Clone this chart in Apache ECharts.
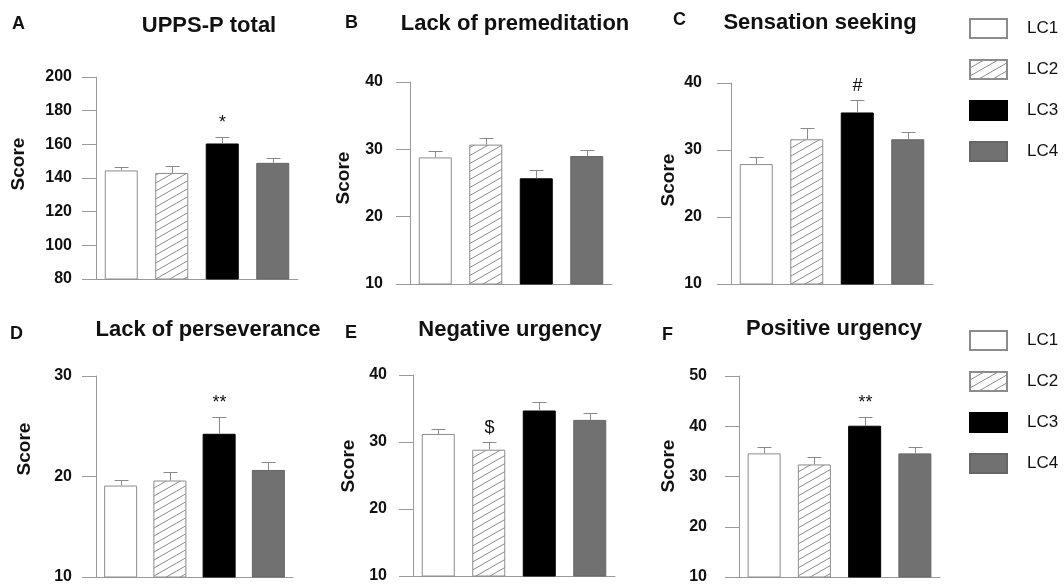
<!DOCTYPE html>
<html>
<head>
<meta charset="utf-8">
<script src="https://cdn.jsdelivr.net/npm/echarts@6/dist/echarts.min.js"></script>
<style>
html,body{margin:0;padding:0;background:#fff}
#main{width:1064px;height:585px}
</style>
</head>
<body>
<div id="main"></div>
<script>
// groups and panels
const groups = ['LC1', 'LC2', 'LC3', 'LC4'];
const panelLetters = ['A', 'B', 'C', 'D', 'E', 'F'];
const panelTitles = ['UPPS-P total', 'Lack of premeditation', 'Sensation seeking',
    'Lack of perseverance', 'Negative urgency', 'Positive urgency'];

// axis ranges
const yMin = [80, 10, 10, 10, 10, 10];
const yMax = [200, 40, 40, 30, 40, 50];
const yStep = [20, 10, 10, 10, 10, 10];

// means and error (SEM) per panel, in LC1..LC4 order
const meanA = [144.5, 143, 160.5, 149];
const semA = [2.2, 4, 4, 2.7];
const meanB = [28.8, 30.7, 25.7, 29.0];
const semB = [0.9, 1.05, 1.2, 0.9];
const meanC = [27.9, 31.6, 35.6, 31.6];
const semC = [1.1, 1.7, 1.9, 1.1];
const meanD = [19.1, 19.6, 24.25, 20.65];
const semD = [0.55, 0.85, 1.65, 0.75];
const meanE = [31.2, 28.85, 34.7, 33.3];
const semE = [0.8, 1.1, 1.3, 1.0];
const meanF = [34.6, 32.4, 40.1, 34.6];
const semF = [1.2, 1.5, 1.7, 1.2];

// significance marks: [group index, symbol]
const marks = [[2, '*'], null, [2, '#'], [2, '**'], [1, '$'], [2, '**']];

const means = [meanA, meanB, meanC, meanD, meanE, meanF];
const sems = [semA, semB, semC, semD, semE, semF];

// layout
const grids = [
    {left: 96, top: 77, width: 202, height: 202},
    {left: 410, top: 82, width: 202, height: 202},
    {left: 731, top: 83, width: 202, height: 201},
    {left: 96, top: 376, width: 197, height: 201},
    {left: 413, top: 375, width: 202, height: 201},
    {left: 739, top: 376, width: 201, height: 201}
];
const labelMargin = [24, 27, 29, 24, 26, 32];
const nameGap = [68, 57, 53, 62, 55, 61];
const namePad = [28, 10, 7, 55, 19, 21];
const titleX = [209, 515, 820, 208, 510, 834];
const titleY = [15, 13, 12, 319, 319, 318];
const letterX = [12, 345, 673, 10, 345, 662];
const letterY = [15, 14, 11, 325, 324, 326];

const FONT = '"Liberation Sans", Arial, sans-serif';
const AXIS_GREY = '#9a9a9a';

// diagonal hatch tile for LC2
function hatchCanvas() {
    const w = 14, h = 8;
    const c = document.createElement('canvas');
    c.width = w;
    c.height = h;
    const g = c.getContext('2d');
    g.fillStyle = '#fff';
    g.fillRect(0, 0, w, h);
    g.strokeStyle = '#8a8a8a';
    g.lineWidth = 1;
    [-h, 0, h].forEach(function (off) {
        g.beginPath();
        g.moveTo(-2, h + off + 2 * h / w);
        g.lineTo(w + 2, off - 2 * h / w);
        g.stroke();
    });
    return c;
}

const barStyles = [
    {color: '#fff', borderColor: '#8c8c8c', borderWidth: 1},
    {color: {image: hatchCanvas(), repeat: 'repeat'}, borderColor: '#8c8c8c', borderWidth: 1},
    {color: '#000', borderColor: '#000', borderWidth: 1},
    {color: '#717171', borderColor: '#666', borderWidth: 1}
];

function errRenderer(p) {
    return function (params, api) {
        const i = api.value(0), v = api.value(1), e = api.value(2);
        const b = api.coord([i, v]);
        const t = api.coord([i, v + e]);
        const x = Math.round(b[0]) + 0.5;
        const ty = Math.round(t[1]) + 0.5;
        const children = [
            {type: 'line', shape: {x1: x, y1: b[1], x2: x, y2: ty}, style: {stroke: '#8a8a8a', lineWidth: 1}},
            {type: 'line', shape: {x1: x - 7, y1: ty, x2: x + 7, y2: ty}, style: {stroke: '#8a8a8a', lineWidth: 1}}
        ];
        const m = marks[p];
        if (m && m[0] === params.dataIndex) {
            children.push({
                type: 'text', x: x, y: ty - 5,
                style: {text: m[1], align: 'center', verticalAlign: 'bottom', font: '18px ' + FONT, fill: '#111'}
            });
        }
        return {type: 'group', children: children};
    };
}

const xAxes = [], yAxes = [], series = [], titles = [];
for (let p = 0; p < 6; p++) {
    xAxes.push({
        type: 'category', gridIndex: p, data: groups,
        axisTick: {show: false}, axisLabel: {show: false},
        axisLine: {onZero: false, lineStyle: {color: AXIS_GREY, width: 1}}
    });
    yAxes.push({
        type: 'value', gridIndex: p, min: yMin[p], max: yMax[p], interval: yStep[p],
        axisLine: {show: true, lineStyle: {color: AXIS_GREY, width: 1}},
        axisTick: {show: true, length: 14, lineStyle: {color: AXIS_GREY, width: 1}},
        splitLine: {show: false},
        axisLabel: {color: '#111', fontWeight: 'bold', fontSize: 16, margin: labelMargin[p]},
        name: 'Score', nameLocation: 'middle', nameGap: nameGap[p],
        nameTextStyle: {color: '#111', fontWeight: 'bold', fontSize: 19, padding: [0, 0, 0, namePad[p]]}
    });
    for (let k = 0; k < 4; k++) {
        series.push({
            name: groups[k], type: 'bar', xAxisIndex: p, yAxisIndex: p,
            data: means[p].map(function (v, i) { return i === k ? v : '-'; }),
            barWidth: 33, barGap: '-100%', itemStyle: barStyles[k], silent: true
        });
    }
    series.push({
        type: 'custom', xAxisIndex: p, yAxisIndex: p, z: 3, silent: true,
        data: means[p].map(function (v, i) { return [i, v, sems[p][i]]; }),
        renderItem: errRenderer(p)
    });
    titles.push({
        text: panelTitles[p], left: titleX[p], top: titleY[p], textAlign: 'center', padding: 0,
        textStyle: {fontSize: 22, fontWeight: 'bold', color: '#111', fontFamily: FONT}
    });
    titles.push({
        text: panelLetters[p], left: letterX[p], top: letterY[p], padding: 0,
        textStyle: {fontSize: 18, fontWeight: 'bold', color: '#111', fontFamily: FONT}
    });
}

const legendBase = {
    data: groups, orient: 'vertical', left: 969, itemWidth: 37, itemHeight: 19, itemGap: 20,
    padding: 0, icon: 'rect', selectedMode: false,
    textStyle: {fontSize: 17, color: '#111', fontFamily: FONT, padding: [0, 0, 0, 15]}
};

const chart = echarts.init(document.getElementById('main'), null, {renderer: 'canvas'});
chart.setOption({
    animation: false,
    backgroundColor: '#fff',
    textStyle: {fontFamily: FONT},
    title: titles,
    legend: [Object.assign({}, legendBase, {top: 18}), Object.assign({}, legendBase, {top: 330})],
    grid: grids,
    xAxis: xAxes,
    yAxis: yAxes,
    series: series
});
</script>
</body>
</html>
